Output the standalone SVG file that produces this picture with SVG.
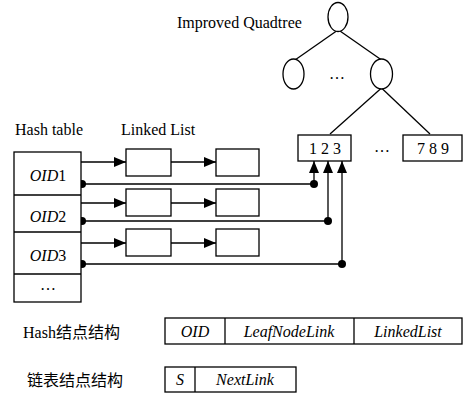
<svg xmlns="http://www.w3.org/2000/svg" width="464" height="394" viewBox="0 0 464 394">
<defs>
<style>
.t{font-family:"Liberation Serif","Noto Sans CJK SC",serif;font-size:16px;fill:#000}
.i{font-style:italic}
.c{text-anchor:middle}
.s{fill:none;stroke:#000;stroke-width:1.3}
.b{fill:#fff;stroke:#000;stroke-width:1.3}
.d{fill:#000}
</style>
<marker id="ah" markerWidth="12" markerHeight="10" refX="12" refY="5" orient="auto" markerUnits="userSpaceOnUse">
<path d="M0,0 L12,5 L0,10 Z" fill="#000"/>
</marker>
</defs>
<rect width="464" height="394" fill="#fff"/>

<g id="labels">
<text class="t" x="177" y="28">Improved Quadtree</text>
<text class="t" x="15" y="135">Hash table</text>
<text class="t" x="121" y="135">Linked List</text>
<text class="t" x="23" y="338">Hash结点结构</text>
<text class="t" x="27" y="386">链表结点结构</text>
</g>

<g id="connectors">
<line class="s" x1="336.5" y1="31" x2="295" y2="60"/>
<line class="s" x1="340" y1="31" x2="383" y2="61"/>
<line class="s" x1="381.5" y1="88" x2="330" y2="134"/>
<line class="s" x1="381.5" y1="88" x2="430" y2="134"/>
<line class="s" x1="81" y1="162" x2="126" y2="162" marker-end="url(#ah)"/>
<line class="s" x1="171" y1="162" x2="216" y2="162" marker-end="url(#ah)"/>
<line class="s" x1="81" y1="203" x2="126" y2="203" marker-end="url(#ah)"/>
<line class="s" x1="171" y1="203" x2="216" y2="203" marker-end="url(#ah)"/>
<line class="s" x1="81" y1="243" x2="126" y2="243" marker-end="url(#ah)"/>
<line class="s" x1="171" y1="243" x2="216" y2="243" marker-end="url(#ah)"/>
<polyline class="s" points="82,184 314,184 314,161" marker-end="url(#ah)"/>
<polyline class="s" points="82,221 328,221 328,161" marker-end="url(#ah)"/>
<polyline class="s" points="82,264 342,264 342,161" marker-end="url(#ah)"/>
<circle class="d" cx="82" cy="184" r="4"/>
<circle class="d" cx="82" cy="221" r="4"/>
<circle class="d" cx="82" cy="264" r="4"/>
<circle class="d" cx="314" cy="184" r="4"/>
<circle class="d" cx="328" cy="221" r="4"/>
<circle class="d" cx="342" cy="264" r="4"/>
</g>

<g id="root"><ellipse class="b" cx="338" cy="17" rx="10" ry="14.5"/></g>
<g id="child-left"><ellipse class="b" cx="293.5" cy="74" rx="10.5" ry="15"/></g>
<g id="child-dots"><text class="t c" x="337" y="79">…</text></g>
<g id="child-right"><ellipse class="b" cx="381.5" cy="74" rx="11" ry="15"/></g>

<g id="leaf-123"><rect class="b" x="298" y="135" width="53" height="26"/><text class="t c" x="325" y="154">1 2 3</text></g>
<g id="leaf-dots"><text class="t c" x="382" y="152">…</text></g>
<g id="leaf-789"><rect class="b" x="403" y="135" width="59" height="26"/><text class="t c" x="433" y="154">7 8 9</text></g>

<g id="hash-table">
<rect class="b" x="14" y="152" width="67" height="150"/>
<line class="s" x1="14" y1="195" x2="81" y2="195"/>
<line class="s" x1="14" y1="232" x2="81" y2="232"/>
<line class="s" x1="14" y1="274" x2="81" y2="274"/>
<text class="t c" x="48" y="181"><tspan class="i">OID</tspan>1</text>
<text class="t c" x="48" y="222"><tspan class="i">OID</tspan>2</text>
<text class="t c" x="48" y="261"><tspan class="i">OID</tspan>3</text>
<text class="t c" x="48" y="290">…</text>
</g>

<g id="list1-a"><rect class="b" x="126" y="149" width="45" height="27"/></g>
<g id="list1-b"><rect class="b" x="216" y="149" width="43" height="27"/></g>
<g id="list2-a"><rect class="b" x="126" y="189" width="45" height="27"/></g>
<g id="list2-b"><rect class="b" x="216" y="189" width="43" height="27"/></g>
<g id="list3-a"><rect class="b" x="126" y="229" width="45" height="27"/></g>
<g id="list3-b"><rect class="b" x="216" y="229" width="43" height="27"/></g>

<g id="hash-node-struct">
<rect class="b" x="165" y="318" width="297" height="26"/>
<line class="s" x1="225" y1="318" x2="225" y2="344"/>
<line class="s" x1="354" y1="318" x2="354" y2="344"/>
<text class="t i c" x="195" y="337">OID</text>
<text class="t i c" x="289" y="337">LeafNodeLink</text>
<text class="t i c" x="408" y="337">LinkedList</text>
</g>

<g id="list-node-struct">
<rect class="b" x="165" y="367" width="131" height="25"/>
<line class="s" x1="195" y1="367" x2="195" y2="392"/>
<text class="t i c" x="180" y="385">S</text>
<text class="t i c" x="245" y="385">NextLink</text>
</g>
</svg>
